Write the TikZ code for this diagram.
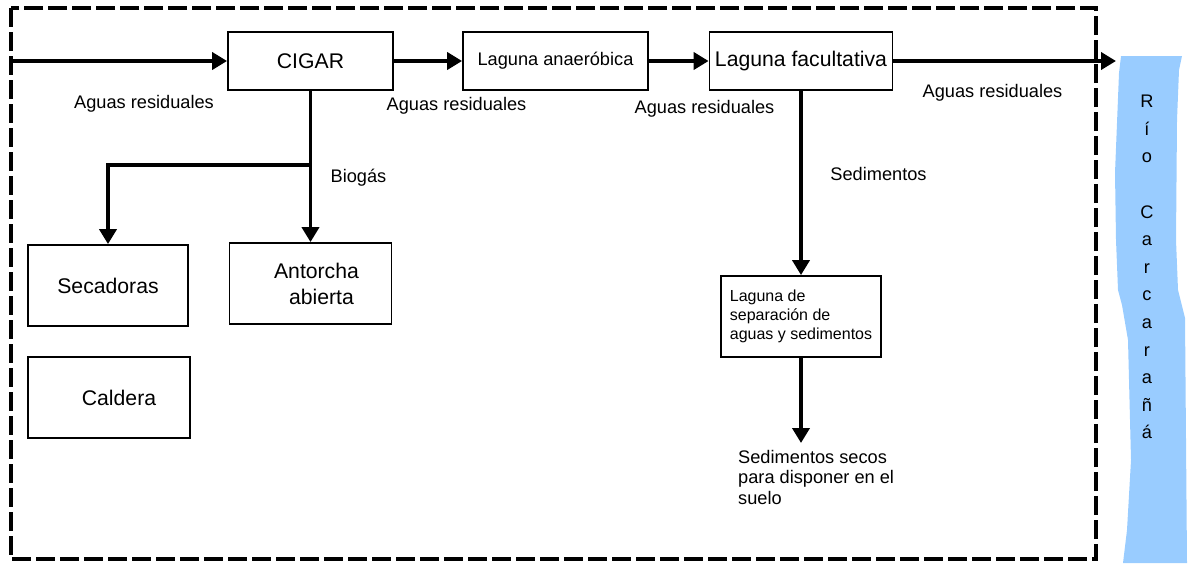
\documentclass[tikz,border=0pt]{standalone}
\usepackage{fontspec}
\setmainfont{Liberation Sans}
\usetikzlibrary{arrows.meta}
\definecolor{riverblue}{RGB}{153,204,255}
\newcommand\fbig{\fontsize{21.2}{26}\selectfont}
\newcommand\fsm{\fontsize{18.2}{20.5}\selectfont}
\newcommand\fsep{\fontsize{16}{19}\selectfont}
\newcommand\friver{\fontsize{18.2}{27.6}\selectfont}
\begin{document}
\begin{tikzpicture}[x=1pt,y=-1pt,
  box/.style={draw, line width=1.8pt, inner sep=0pt},
  flow/.style={line width=3.8pt, -{Triangle[length=15pt,width=17pt]}},
  pipe/.style={line width=3.8pt},
  lbl/.style={inner sep=0pt, font=\fsm},
  frame/.style={line width=3.3pt, dash pattern=on 19pt off 5pt}]
\useasboundingbox (0,0) rectangle (1188,563);
% river
\fill[riverblue] (1121,56) -- (1182,56) -- (1179,70) -- (1177,120) -- (1176,240)
  -- (1178,290) -- (1185,318) -- (1187,563) -- (1123,563) -- (1127,530)
  -- (1131,460) -- (1128,340) -- (1122,305) -- (1118,290) -- (1116,240)
  -- (1115,173) -- (1119,73) -- cycle;
\node[inner sep=0pt, anchor=north, align=center, font=\friver] (rio) at (1147,95)
  {R\\í\\o\\~\\C\\a\\r\\c\\a\\r\\a\\ñ\\á};
% dashed frame
\draw[frame] (11,8) rectangle (1096,559);
% boxes
\node[box, minimum width=165pt, minimum height=58pt, font=\fbig] (cigar) at (310.5,61) {CIGAR};
\node[box, minimum width=185pt, minimum height=58pt, font=\fsm] (anaer) at (555.5,61) {Laguna anaeróbica};
\node[box, minimum width=183pt, minimum height=58pt, font=\fbig] (fac) at (801,61) {Laguna facultativa};
\node[box, minimum width=160pt, minimum height=81pt, font=\fbig] (sec) at (108,285.5) {Secadoras};
\node[box, minimum width=162pt, minimum height=81pt, font=\fbig, align=center] (ant) at (310.5,283.5)
  {\hspace*{12pt}Antorcha\\\hspace*{22pt}abierta};
\node[box, minimum width=162pt, minimum height=81pt, font=\fbig] (cal) at (109,397.5) {\hspace*{20pt}Caldera};
\node[box, minimum width=160pt, minimum height=81pt, font=\fsep, align=left] (sep) at (801,316.5)
  {Laguna de\\separación de\\aguas y sedimentos};
% labels
\node[lbl] (l1) at (144,104) {Aguas residuales};
\node[lbl] (l2) at (456.5,106) {Aguas residuales};
\node[lbl] (l3) at (704.5,109) {Aguas residuales};
\node[lbl] (l4) at (992.5,93) {Aguas residuales};
\node[lbl] (bio) at (358.5,178) {Biogás};
\node[lbl] (sed) at (878.5,174) {Sedimentos};
\node[lbl, align=left, anchor=north west] (dry) at (738,450)
  {Sedimentos secos\\para disponer en el\\suelo};
% connectors
\coordinate (in) at (11,61);
\coordinate (river) at (1116,61);
\coordinate (split) at (310.5,165);
\coordinate (drytip) at (801,443);
\draw[flow] (in) -- (cigar.west);
\draw[flow] (cigar.east) -- (anaer.west);
\draw[flow] (anaer.east) -- (fac.west);
\draw[flow] (fac.east) -- (river);
\draw[pipe] (cigar.south) -- (split);
\draw[flow] (split) -- (ant.north);
\draw[flow] (split) -| (sec.north);
\draw[flow] (fac.south) -- (sep.north);
\draw[flow] (sep.south) -- (drytip);
\end{tikzpicture}
\end{document}
